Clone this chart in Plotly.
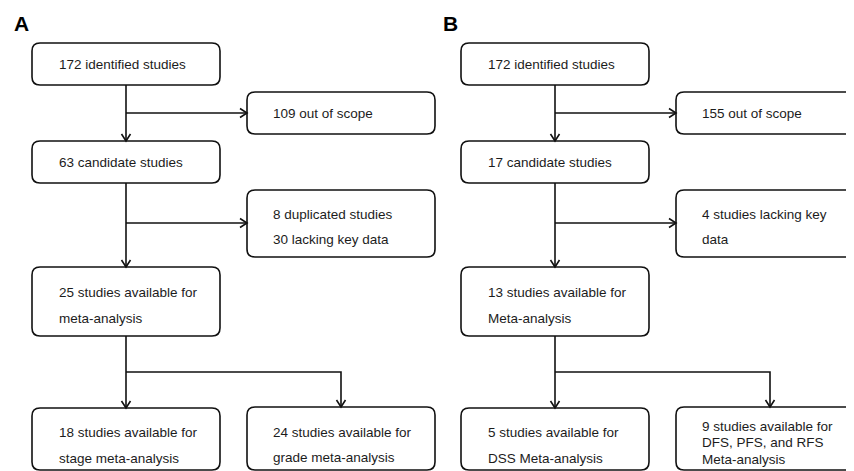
import plotly.graph_objects as go

# ---------------- data (text content) ----------------
panel_labels = ["A", "B"]

a_top = ["172 identified studies"]
a_excl1 = ["109 out of scope"]
a_cand = ["63 candidate studies"]
a_excl2 = ["8 duplicated studies", "30 lacking key data"]
a_avail = ["25 studies available for", "meta-analysis"]
a_left = ["18 studies available for", "stage meta-analysis"]
a_right = ["24 studies available for", "grade meta-analysis"]

b_top = ["172 identified studies"]
b_excl1 = ["155 out of scope"]
b_cand = ["17 candidate studies"]
b_excl2 = ["4 studies lacking key", "data"]
b_avail = ["13 studies available for", "Meta-analysis"]
b_left = ["5 studies available for", "DSS Meta-analysis"]
b_right = ["9 studies available for", "DFS, PFS, and RFS", "Meta-analysis"]

panels = [
    [a_top, a_excl1, a_cand, a_excl2, a_avail, a_left, a_right],
    [b_top, b_excl1, b_cand, b_excl2, b_avail, b_left, b_right],
]

# ---------------- geometry / style ----------------
W, H = 854, 471
PAGE_OFF = 8  # browser body margin
LINE = dict(color="#111111", width=1.6)
FONT = dict(family="Liberation Sans, Arial, sans-serif", size=13.5, color="#1c1c1c")
R = 8

shapes = []
annotations = []


def rbox(x0, y0, x1, y1, r=R):
    p = (f"M {x0+r},{y0} L {x1-r},{y0} Q {x1},{y0} {x1},{y0+r} "
         f"L {x1},{y1-r} Q {x1},{y1} {x1-r},{y1} L {x0+r},{y1} "
         f"Q {x0},{y1} {x0},{y1-r} L {x0},{y0+r} Q {x0},{y0} {x0+r},{y0} Z")
    shapes.append(dict(type="path", path=p, xref="x", yref="y", line=LINE,
                       fillcolor="white", layer="above"))


def seg(pts):
    p = "M " + " L ".join(f"{x},{y}" for x, y in pts)
    shapes.append(dict(type="path", path=p, xref="x", yref="y", line=LINE,
                       layer="above"))


def arrow_down(x, y):
    seg([(x - 4.5, y - 7), (x, y), (x + 4.5, y - 7)])


def arrow_right(x, y):
    seg([(x - 7, y - 4.5), (x, y), (x - 7, y + 4.5)])


def text(x, y, s, **kw):
    f = dict(FONT)
    f.update(kw.pop("font", {}))
    annotations.append(dict(x=x, y=y, xref="x", yref="y", text=s, showarrow=False,
                            xanchor="left", yanchor="middle", font=f, **kw))


for pi, (top, ex1, cand, ex2, avail, left, right) in enumerate(panels):
    off = pi * 429
    lx0, lx1 = 32 + off, 220 + off
    rx0, rx1 = 247 + off, 435 + off
    cx = (lx0 + lx1) / 2
    rcx = (rx0 + rx1) / 2

    # panel label
    text(12 + off, 23, "<b>" + panel_labels[pi] + "</b>",
         font=dict(size=21, color="#000000"))

    # boxes
    rbox(lx0, 43, lx1, 85)
    rbox(rx0, 92, rx1, 134)
    rbox(lx0, 141, lx1, 183)
    rbox(rx0, 190, rx1, 257)
    rbox(lx0, 267, lx1, 336)
    rbox(lx0, 408, lx1, 470)
    rbox(rx0, 407, rx1, 470)

    # connectors
    seg([(cx, 85), (cx, 141)]); arrow_down(cx, 141)
    seg([(cx, 113), (rx0, 113)]); arrow_right(rx0, 113)
    seg([(cx, 183), (cx, 267)]); arrow_down(cx, 267)
    seg([(cx, 223), (rx0, 223)]); arrow_right(rx0, 223)
    seg([(cx, 336), (cx, 408)]); arrow_down(cx, 408)
    seg([(cx, 372), (rcx, 372), (rcx, 407)]); arrow_down(rcx, 407)

    # texts
    tl = lx0 + 25
    tr = rx0 + 24
    text(tl, 64, top[0])
    text(tr, 113, ex1[0])
    text(tl, 162, cand[0])
    for i, s in enumerate(ex2):
        text(tr, 214 + 25 * i, s)
    for i, s in enumerate(avail):
        text(tl, 292 + 26 * i, s)
    for i, s in enumerate(left):
        text(tl, 432 + 26 * i, s)
    if len(right) == 2:
        for i, s in enumerate(right):
            text(tr, 432 + 25.5 * i, s)
    else:
        for i, s in enumerate(right):
            text(tr, 426 + 16.5 * i, s)

fig = go.Figure()
fig.update_layout(
    width=W, height=H,
    margin=dict(l=0, r=0, t=0, b=0),
    paper_bgcolor="white", plot_bgcolor="white",
    xaxis=dict(range=[PAGE_OFF, W + PAGE_OFF], visible=False, fixedrange=True),
    yaxis=dict(range=[H + PAGE_OFF, PAGE_OFF], visible=False, fixedrange=True),
    shapes=shapes, annotations=annotations, showlegend=False,
)
fig.write_html("out.html")
